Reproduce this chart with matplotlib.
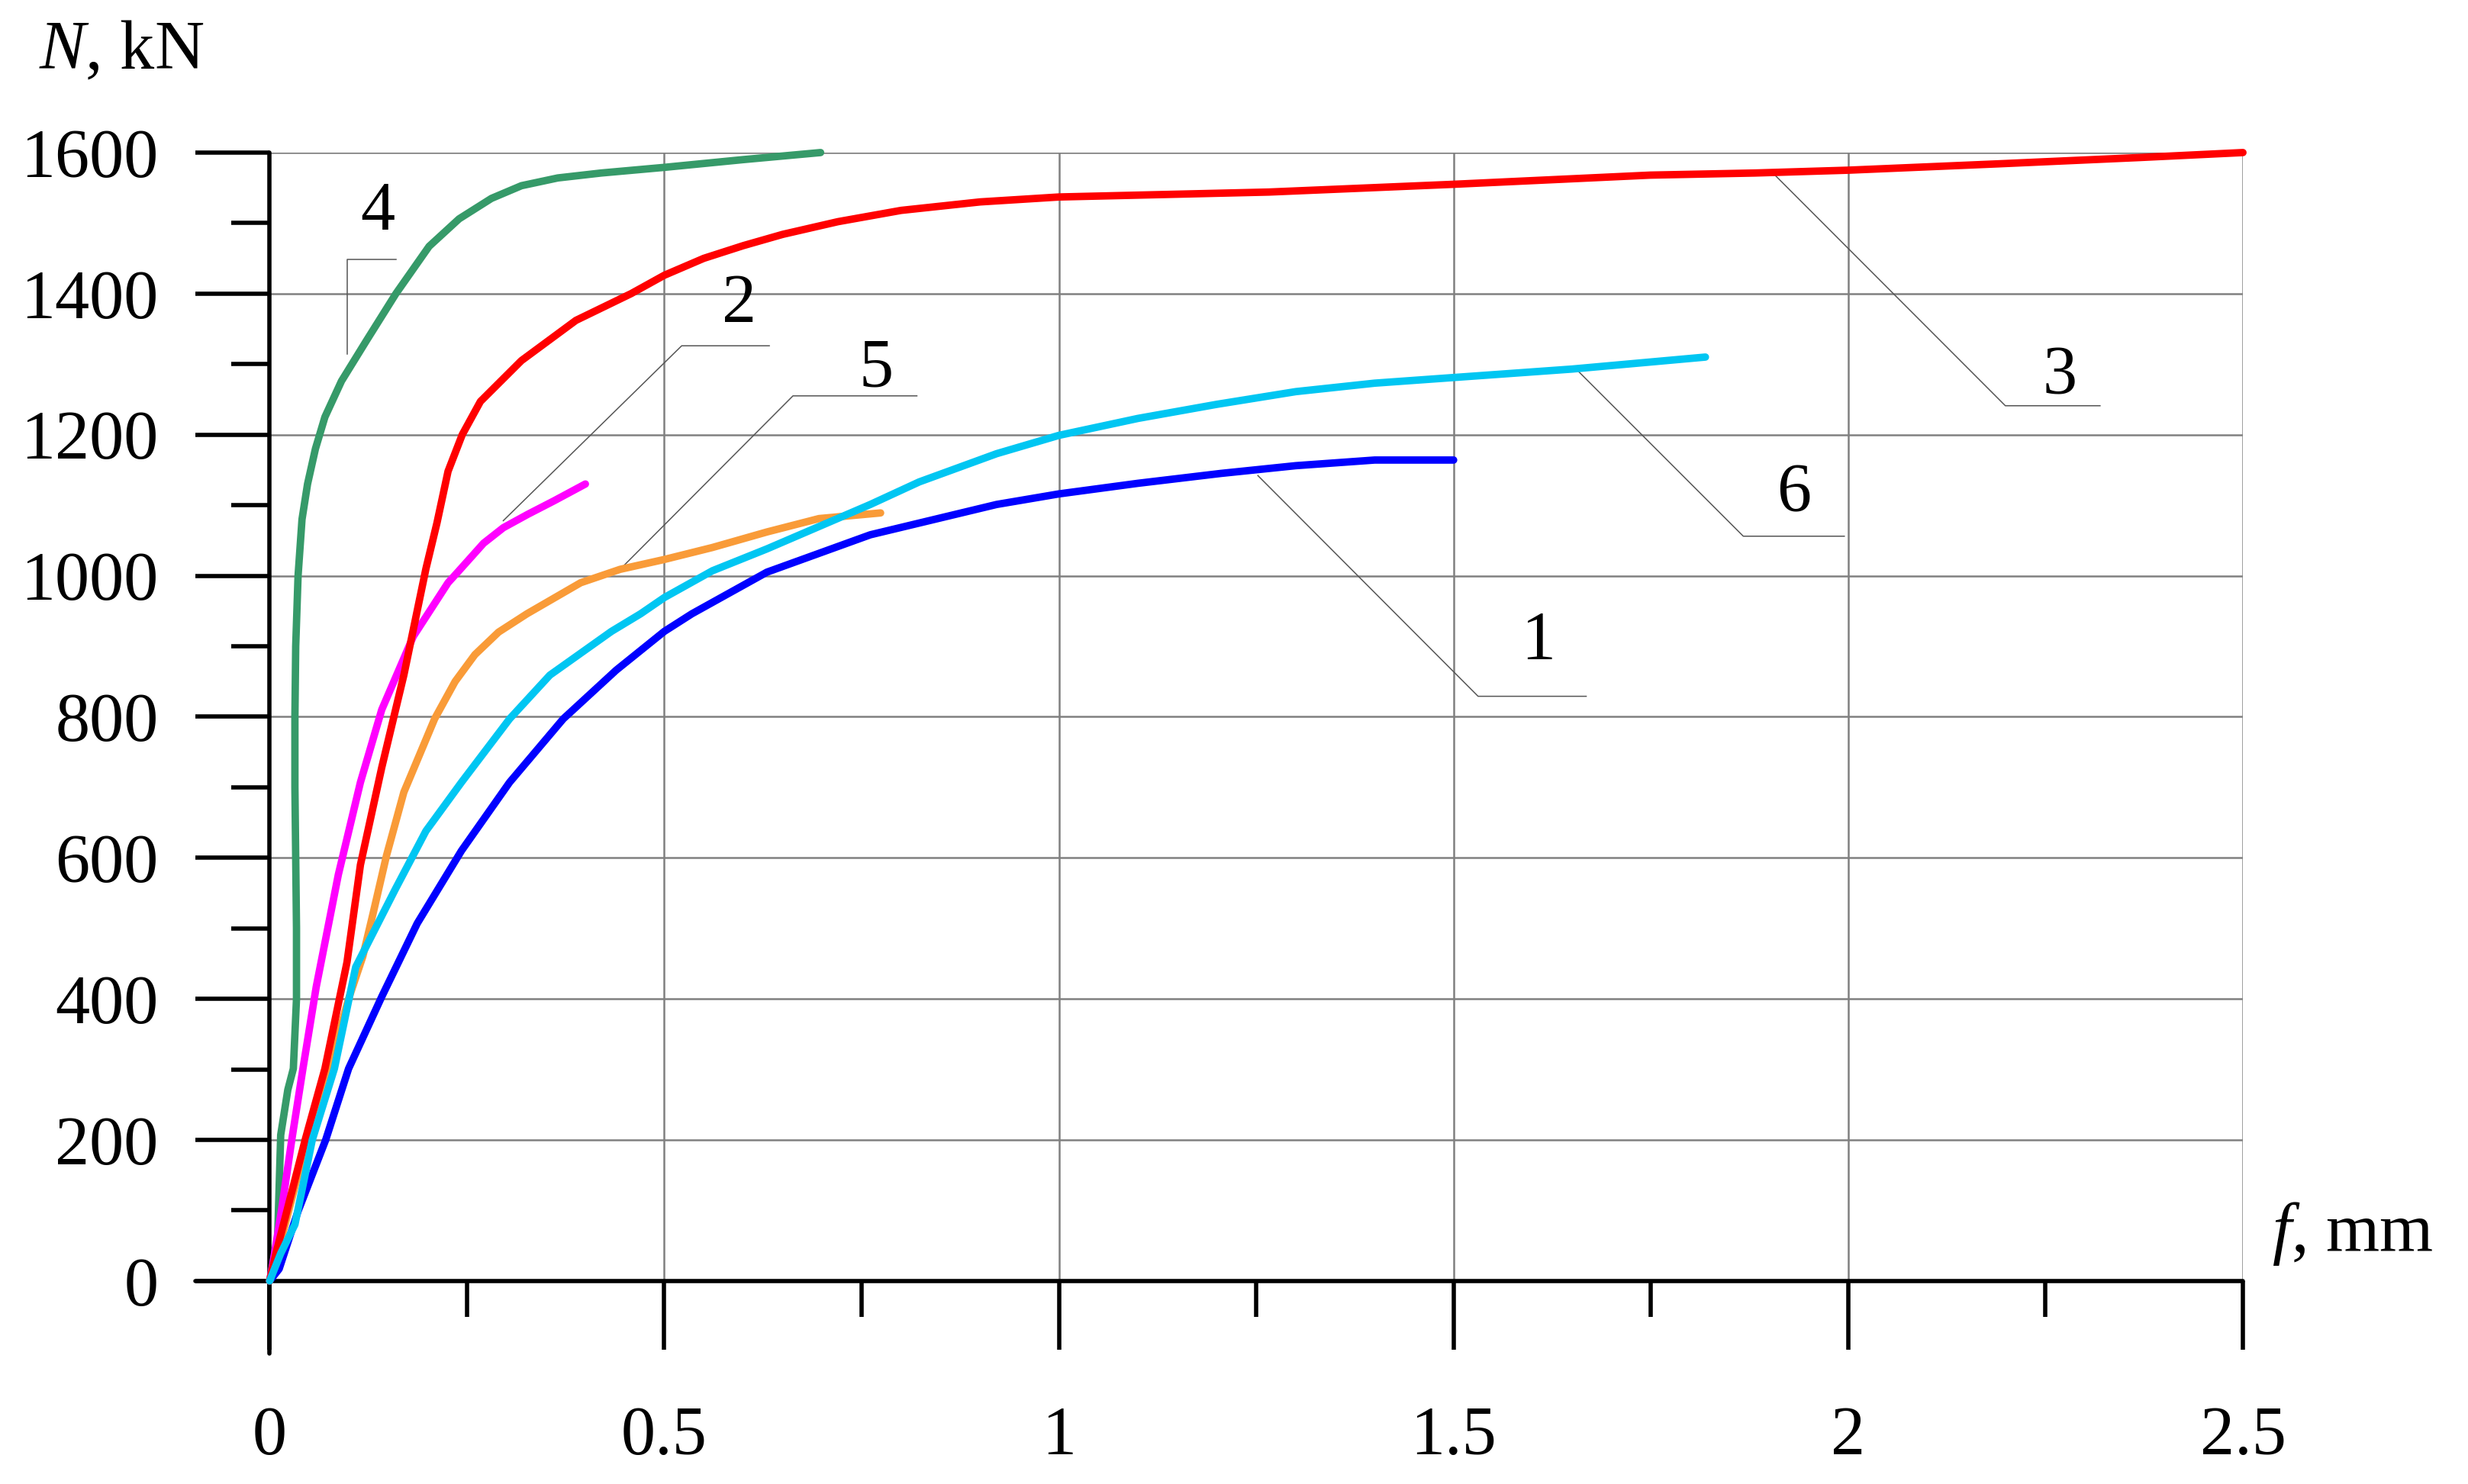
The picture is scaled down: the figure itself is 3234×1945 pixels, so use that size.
import matplotlib.pyplot as plt
from matplotlib.ticker import FixedLocator

plt.rcParams['font.family'] = ['Liberation Serif', 'DejaVu Serif']
plt.rcParams['mathtext.fontset'] = 'custom'
plt.rcParams['mathtext.rm'] = 'Liberation Serif'
plt.rcParams['mathtext.it'] = 'Liberation Serif:italic'

# deflection f (mm) and load N (kN) for each specimen
f1 = [0, 0.012, 0.036, 0.071, 0.10, 0.142, 0.187, 0.243, 0.304, 0.372, 0.439, 0.5, 0.535,
      0.63, 0.761, 0.921, 1.0, 1.1, 1.205, 1.3, 1.4, 1.5]
n1 = [0, 17, 99, 200, 301, 403, 507, 610, 707, 797, 866, 921, 946,
      1005, 1058, 1101, 1116, 1131, 1145, 1156, 1164, 1164]

f2 = [0, 0.004, 0.015, 0.028, 0.042, 0.059, 0.087, 0.115, 0.142, 0.182, 0.226, 0.239,
      0.271, 0.296, 0.327, 0.36, 0.40]
n2 = [0, 24, 100, 200, 300, 417, 576, 707, 810, 914, 990, 1006,
      1046, 1068, 1087, 1106, 1130]

f3 = [0, 0.008, 0.045, 0.07, 0.098, 0.115, 0.142, 0.17, 0.198, 0.212, 0.226, 0.244, 0.267,
      0.319, 0.388, 0.458, 0.5, 0.55, 0.6, 0.65, 0.72, 0.8, 0.9, 1.0, 1.266, 1.5, 1.749,
      1.882, 2.0, 2.19, 2.37, 2.5]
n3 = [0, 39, 200, 301, 452, 590, 728, 859, 1010, 1075, 1148, 1200, 1247,
      1305, 1362, 1400, 1426, 1450, 1468, 1484, 1502, 1518, 1530, 1537, 1544, 1555, 1568,
      1571, 1575, 1584, 1593, 1600]

f4 = [0, 0.010, 0.014, 0.023, 0.030, 0.034, 0.034, 0.033, 0.032, 0.032, 0.033, 0.036,
      0.041, 0.048, 0.058, 0.070, 0.091, 0.123, 0.160, 0.202, 0.240, 0.281, 0.319,
      0.365, 0.42, 0.5, 0.6, 0.698]
n4 = [0, 58, 207, 271, 301, 400, 500, 600, 700, 800, 900, 1000,
      1080, 1130, 1180, 1225, 1276, 1334, 1400, 1467, 1506, 1535, 1553,
      1564, 1571, 1579, 1590, 1600]

f5 = [0, 0.017, 0.045, 0.075, 0.10, 0.118, 0.131, 0.148, 0.17, 0.209, 0.235, 0.26, 0.29,
      0.326, 0.394, 0.444, 0.5, 0.561, 0.63, 0.696, 0.774]
n5 = [0, 69, 190, 300, 400, 460, 521, 603, 693, 797, 850, 888, 920,
      946, 990, 1009, 1023, 1040, 1062, 1081, 1089]

f6 = [0, 0.014, 0.032, 0.054, 0.082, 0.109, 0.159, 0.198, 0.243, 0.304, 0.355, 0.394,
      0.433, 0.47, 0.5, 0.561, 0.63, 0.761, 0.823, 0.921, 1.0, 1.1, 1.2, 1.3, 1.4, 1.5,
      1.65, 1.819]
n6 = [0, 39, 80, 200, 301, 445, 555, 638, 707, 797, 859, 890,
      921, 946, 969, 1007, 1038, 1101, 1133, 1173, 1199, 1223, 1243, 1261, 1273, 1281,
      1293, 1310]

curves = [
    ('4', f4, n4, '#369a69'),
    ('2', f2, n2, '#ff00ff'),
    ('1', f1, n1, '#0000ff'),
    ('5', f5, n5, '#f99b38'),
    ('3', f3, n3, '#ff0000'),
    ('6', f6, n6, '#00c6f2'),
]

# leader lines: point on curve -> elbow -> end of shelf, and the number position
leaders = {
    '4': ([0.098, 0.098, 0.160], [1314, 1449, 1449], (0.137, 1515)),
    '2': ([0.296, 0.522, 0.633], [1078, 1326, 1326], (0.595, 1384)),
    '5': ([0.444, 0.663, 0.820], [1009, 1255, 1255], (0.768, 1292)),
    '3': ([1.908, 2.199, 2.319], [1567, 1241, 1241], (2.268, 1282)),
    '6': ([1.657, 1.867, 1.995], [1291, 1056, 1056], (1.931, 1115)),
    '1': ([1.252, 1.531, 1.668], [1142, 829, 829], (1.607, 906)),
}

x_major = [0, 0.5, 1, 1.5, 2, 2.5]
x_labels = ['0', '0.5', '1', '1.5', '2', '2.5']
x_minor = [0.25, 0.75, 1.25, 1.75, 2.25]
y_major = [0, 200, 400, 600, 800, 1000, 1200, 1400, 1600]
y_minor = [100, 300, 500, 700, 900, 1100, 1300, 1500]

fs = 65
fig = plt.figure(figsize=(32.34, 19.45), dpi=100)
ax = fig.add_axes([0.0792, 0.0879, 0.8296, 0.8093])
ax.set_xlim(-0.094, 2.5)
ax.set_ylim(-103, 1600)

# grid only in the positive quadrant
ax.hlines(y_major[1:], 0, 2.5, color='#808080', lw=1.8, zorder=1)
ax.vlines(x_major[1:], 0, 1600, color='#808080', lw=1.8, zorder=1)

for name, f, n, c in curves:
    ax.plot(f, n, color=c, lw=7, solid_capstyle='round', solid_joinstyle='round',
            zorder=3, clip_on=False)

for name, (lx, ly, pos) in leaders.items():
    ax.plot(lx, ly, color='#555555', lw=1.1, zorder=2.8, clip_on=False)
    ax.text(pos[0], pos[1], name, fontsize=fs, ha='center', va='center', zorder=4)

for s in ['top', 'right']:
    ax.spines[s].set_visible(False)
ax.spines['left'].set_position(('data', 0))
ax.spines['bottom'].set_position(('data', 0))
for s in ['left', 'bottom']:
    ax.spines[s].set_linewidth(4)
    ax.spines[s].set_capstyle('round')

ax.xaxis.set_major_locator(FixedLocator(x_major))
ax.xaxis.set_minor_locator(FixedLocator(x_minor))
ax.set_xticklabels(x_labels)
ax.yaxis.set_major_locator(FixedLocator(y_major))
ax.yaxis.set_minor_locator(FixedLocator(y_minor))
ax.set_yticklabels([str(v) for v in y_major])

ax.tick_params(axis='x', which='major', direction='out', length=65, width=4,
               pad=53, labelsize=fs)
ax.tick_params(axis='x', which='minor', direction='out', length=34, width=4)
ax.tick_params(axis='y', which='major', direction='out', length=70, width=4,
               pad=35, labelsize=fs)
ax.tick_params(axis='y', which='minor', direction='out', length=36, width=4)

fig.text(0.0158, 0.9537, r'$N$, kN', fontsize=fs, ha='left', va='baseline')
fig.text(0.9205, 0.1568, r'$f$, mm', fontsize=fs, ha='left', va='baseline')

fig.savefig('out.png', dpi=100, facecolor='white')
